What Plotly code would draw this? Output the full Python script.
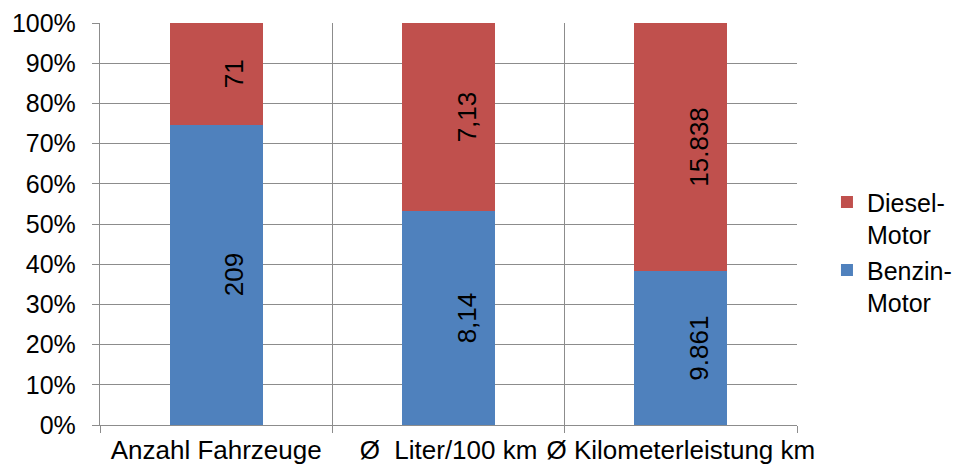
import plotly.graph_objects as go

categories = ["Anzahl Fahrzeuge", "Ø  Liter/100 km", "Ø Kilometerleistung km"]
benzin = [209, 8.14, 9861]
diesel = [71, 7.13, 15838]
benzin_labels = ["209", "8,14", "9.861"]
diesel_labels = ["71", "7,13", "15.838"]
y_ticks = [0, 10, 20, 30, 40, 50, 60, 70, 80, 90, 100]
y_tick_labels = [f"{v}%" for v in y_ticks]

BLUE = "#4F81BD"
RED = "#C0504D"
GRID = "#8C8C8C"
FONT = "Liberation Sans, Arial, sans-serif"

fig = go.Figure()
fig.add_trace(go.Bar(x=categories, y=benzin, name="Benzin-<br>Motor",
                     marker=dict(color=BLUE, line=dict(width=0))))
fig.add_trace(go.Bar(x=categories, y=diesel, name="Diesel-<br>Motor",
                     marker=dict(color=RED, line=dict(width=0))))

ann = []
for c, b, d, bl, dl in zip(categories, benzin, diesel, benzin_labels, diesel_labels):
    p = b / (b + d) * 100
    ann.append(dict(x=c, y=p / 2, text=bl, textangle=-90, showarrow=False,
                    xshift=18, font=dict(size=26, color="black", family=FONT)))
    ann.append(dict(x=c, y=p + (100 - p) / 2, text=dl, textangle=-90, showarrow=False,
                    xshift=18, font=dict(size=26, color="black", family=FONT)))

# page body has an 8px default margin; size the figure to compensate
fig.update_layout(
    width=956, height=460,
    barmode="stack", barnorm="percent", bargap=0.6,
    plot_bgcolor="white", paper_bgcolor="white",
    margin=dict(l=92, r=167, t=15, b=43, autoexpand=False),
    font=dict(family=FONT, size=26, color="black"),
    annotations=ann,
    showlegend=True,
    legend=dict(traceorder="reversed", x=1.043, xanchor="left", y=0.43, yanchor="middle",
                font=dict(size=25), itemwidth=30, tracegroupgap=0, valign="top",
                bgcolor="rgba(0,0,0,0)"),
    xaxis=dict(type="category", tickson="boundaries", showgrid=True, gridcolor=GRID,
               gridwidth=1.3, ticks="outside", ticklen=7, tickcolor=GRID, tickwidth=1.3,
               showline=True, linecolor=GRID, linewidth=1.3, mirror=False,
               tickangle=0, automargin=False,
               ticklabelstandoff=2, tickfont=dict(size=26)),
    yaxis=dict(range=[0, 100], tickvals=y_ticks, ticktext=y_tick_labels, showgrid=True,
               gridcolor=GRID, gridwidth=1.3, ticks="outside", ticklen=7, tickcolor=GRID,
               tickwidth=1.3, showline=True, linecolor=GRID, linewidth=1.3,
               zeroline=False, automargin=False,
               ticklabelstandoff=11, tickfont=dict(size=25)),
)

fig.write_html("out.html")
